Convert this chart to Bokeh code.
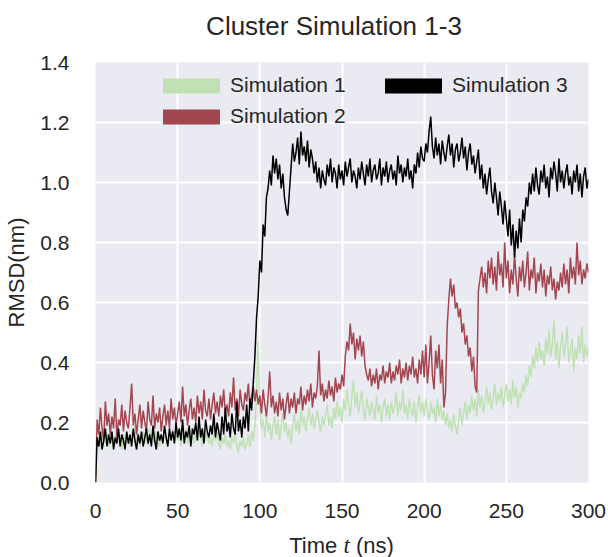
from bokeh.plotting import figure
from bokeh.layouts import column
from bokeh.models import Range1d, FixedTicker, PrintfTickFormatter, Legend, LegendItem, Div
from bokeh.embed import file_html
from bokeh.resources import INLINE

# ---------------- data (RMSD in nm, sampled every 1 ns) ----------------
time_ns = list(range(0, 301))

sim1 = [
    0.0, 0.13, 0.16, 0.11, 0.15, 0.18, 0.13, 0.16, 0.12, 0.17,
    0.14, 0.12, 0.16, 0.13, 0.18, 0.14, 0.11, 0.16, 0.13, 0.17,
    0.14, 0.12, 0.17, 0.15, 0.19, 0.13, 0.16, 0.12, 0.15, 0.17,
    0.13, 0.16, 0.12, 0.18, 0.14, 0.16, 0.13, 0.17, 0.14, 0.12,
    0.16, 0.13, 0.17, 0.14, 0.12, 0.16, 0.15, 0.18, 0.13, 0.16,
    0.14, 0.17, 0.12, 0.16, 0.15, 0.18, 0.13, 0.16, 0.14, 0.17,
    0.13, 0.16, 0.14, 0.18, 0.15, 0.12, 0.16, 0.14, 0.17, 0.13,
    0.15, 0.12, 0.16, 0.14, 0.17, 0.13, 0.11, 0.15, 0.13, 0.16,
    0.12, 0.14, 0.11, 0.15, 0.13, 0.17, 0.12, 0.10, 0.14, 0.12,
    0.15, 0.11, 0.13, 0.16, 0.12, 0.17, 0.14, 0.19, 0.30, 0.47,
    0.24, 0.18, 0.21, 0.15, 0.23, 0.17, 0.20, 0.14, 0.19, 0.22,
    0.16, 0.21, 0.14, 0.19, 0.23, 0.17, 0.20, 0.15, 0.18, 0.13,
    0.19, 0.23, 0.17, 0.21, 0.16, 0.24, 0.19, 0.22, 0.17, 0.21,
    0.25, 0.19, 0.23, 0.18, 0.21, 0.24, 0.20, 0.17, 0.22, 0.19,
    0.23, 0.26, 0.19, 0.22, 0.18, 0.25, 0.21, 0.27, 0.22, 0.25,
    0.20, 0.28, 0.24, 0.31, 0.26, 0.22, 0.29, 0.34, 0.25, 0.30,
    0.23, 0.27, 0.31, 0.24, 0.21, 0.28, 0.25, 0.22, 0.27, 0.24,
    0.21, 0.29, 0.23, 0.26, 0.20, 0.25, 0.28, 0.22, 0.26, 0.21,
    0.27, 0.23, 0.25, 0.30, 0.22, 0.27, 0.24, 0.31, 0.23, 0.26,
    0.21, 0.28, 0.24, 0.22, 0.27, 0.20, 0.25, 0.29, 0.23, 0.27,
    0.22, 0.28, 0.24, 0.21, 0.27, 0.23, 0.25, 0.20, 0.28, 0.22,
    0.26, 0.21, 0.24, 0.19, 0.23, 0.18, 0.21, 0.17, 0.23, 0.19,
    0.16, 0.21, 0.25, 0.19, 0.23, 0.27, 0.21, 0.26, 0.23, 0.29,
    0.24, 0.28, 0.22, 0.31, 0.25, 0.29, 0.23, 0.27, 0.32, 0.26,
    0.30, 0.24, 0.28, 0.33, 0.26, 0.30, 0.27, 0.32, 0.25, 0.29,
    0.33, 0.27, 0.31, 0.26, 0.34, 0.28, 0.32, 0.25, 0.30, 0.28,
    0.33, 0.30, 0.36, 0.32, 0.39, 0.35, 0.42, 0.38, 0.45, 0.40,
    0.47, 0.41, 0.44, 0.39, 0.48, 0.43, 0.51, 0.42, 0.46, 0.54,
    0.41, 0.47, 0.38, 0.45, 0.50, 0.42, 0.46, 0.52, 0.40, 0.44,
    0.48, 0.37, 0.45, 0.41, 0.49, 0.43, 0.52, 0.40, 0.46, 0.42,
    0.45,
]

sim2 = [
    0.0, 0.21, 0.16, 0.25, 0.18, 0.14, 0.27, 0.19, 0.23, 0.16,
    0.22, 0.18, 0.28, 0.15, 0.21, 0.19, 0.26, 0.17, 0.24, 0.20,
    0.18, 0.25, 0.33, 0.19, 0.23, 0.16, 0.21, 0.26, 0.18, 0.24,
    0.20, 0.17, 0.27, 0.21, 0.19, 0.29, 0.18, 0.23, 0.20, 0.25,
    0.17, 0.22, 0.26, 0.19, 0.24, 0.18, 0.28, 0.21, 0.25, 0.19,
    0.23, 0.27, 0.20, 0.32, 0.22, 0.26, 0.19, 0.24, 0.28, 0.21,
    0.25, 0.20, 0.29, 0.23, 0.27, 0.21, 0.31, 0.24, 0.22, 0.28,
    0.21, 0.26, 0.30, 0.23, 0.27, 0.22, 0.29, 0.25, 0.31, 0.23,
    0.26, 0.22, 0.30, 0.25, 0.35, 0.24, 0.28, 0.22, 0.31, 0.26,
    0.24, 0.30, 0.27, 0.33, 0.25, 0.29, 0.32, 0.27, 0.31, 0.26,
    0.29, 0.23, 0.31, 0.26, 0.22, 0.28, 0.37, 0.25, 0.29, 0.23,
    0.27, 0.22, 0.30, 0.24, 0.28, 0.21, 0.26, 0.30, 0.23, 0.28,
    0.25, 0.30, 0.23, 0.28, 0.26, 0.32, 0.24, 0.29, 0.26, 0.31,
    0.27, 0.33, 0.25, 0.30, 0.28, 0.32, 0.44, 0.29, 0.33, 0.27,
    0.31, 0.28, 0.34, 0.29, 0.32, 0.27, 0.35, 0.30, 0.33, 0.31,
    0.36, 0.32, 0.42, 0.47, 0.44, 0.53, 0.46, 0.50, 0.41, 0.48,
    0.44, 0.49, 0.42, 0.47, 0.39, 0.36, 0.34, 0.38, 0.32, 0.36,
    0.33, 0.38, 0.31, 0.36, 0.34, 0.39, 0.33, 0.37, 0.35, 0.40,
    0.33, 0.37, 0.34, 0.39, 0.36, 0.41, 0.33, 0.38, 0.35, 0.40,
    0.34, 0.39, 0.36, 0.42, 0.35, 0.38, 0.33, 0.41, 0.36, 0.44,
    0.35, 0.46, 0.33, 0.40, 0.49, 0.36, 0.31, 0.44, 0.38, 0.46,
    0.33, 0.41, 0.25, 0.30, 0.52, 0.61, 0.68, 0.62, 0.66, 0.58,
    0.60, 0.55, 0.58, 0.50, 0.53, 0.46, 0.49, 0.42, 0.45, 0.37,
    0.42, 0.32, 0.30, 0.64, 0.68, 0.72, 0.65, 0.70, 0.63, 0.74,
    0.68, 0.75, 0.66, 0.72, 0.64, 0.77, 0.69, 0.73, 0.65, 0.80,
    0.68, 0.74, 0.63, 0.71, 0.66, 0.76, 0.68, 0.62, 0.72, 0.67,
    0.74, 0.65, 0.70, 0.77, 0.64, 0.71, 0.68, 0.75, 0.63, 0.70,
    0.67, 0.73, 0.65, 0.71, 0.62, 0.69, 0.66, 0.72, 0.64, 0.68,
    0.61, 0.67, 0.64, 0.70, 0.65, 0.73, 0.66, 0.71, 0.63, 0.75,
    0.68, 0.72, 0.66, 0.80, 0.69, 0.74, 0.66, 0.71, 0.68, 0.73,
    0.70,
]

sim3 = [
    0.0, 0.15, 0.12, 0.17, 0.11, 0.14, 0.18, 0.12, 0.16, 0.13,
    0.17, 0.11, 0.15, 0.13, 0.18, 0.12, 0.16, 0.14, 0.11, 0.17,
    0.13, 0.16, 0.12, 0.18, 0.14, 0.11, 0.16, 0.13, 0.17, 0.12,
    0.15, 0.18, 0.13, 0.16, 0.12, 0.19, 0.14, 0.11, 0.17, 0.14,
    0.16, 0.13, 0.19, 0.15, 0.12, 0.18, 0.14, 0.17, 0.13, 0.20,
    0.15, 0.18, 0.14, 0.21, 0.13, 0.17, 0.15, 0.19, 0.12, 0.18,
    0.16, 0.20, 0.14, 0.22, 0.15, 0.18, 0.13, 0.21, 0.17, 0.15,
    0.19, 0.16, 0.23, 0.15, 0.20, 0.17, 0.14, 0.22, 0.16, 0.25,
    0.17, 0.20, 0.15, 0.23, 0.18, 0.16, 0.27, 0.17, 0.21, 0.15,
    0.22, 0.18, 0.26, 0.17, 0.28, 0.24, 0.33, 0.42, 0.55, 0.62,
    0.74, 0.70, 0.86, 0.82, 0.95, 0.98, 1.04, 0.99, 1.09, 1.03,
    1.08, 1.01, 1.06, 0.98, 1.03, 0.95, 0.91, 0.89, 0.97, 1.05,
    1.13, 1.07, 1.10, 1.15, 1.06, 1.17, 1.09, 1.12, 1.07, 1.14,
    1.05, 1.11, 1.08, 1.03, 1.07, 1.00, 1.05, 0.98, 1.04, 1.01,
    0.99, 1.06, 1.02, 1.08, 1.00, 1.05, 1.03, 0.98, 1.06, 1.01,
    1.04, 0.99, 1.07, 1.02, 1.05, 1.08, 1.00, 1.04, 1.02, 0.98,
    1.05, 1.01, 1.07, 1.03, 0.99, 1.06, 1.02, 1.08, 1.00, 1.04,
    1.06, 1.01, 1.03, 1.08, 0.99, 1.05, 1.02, 1.07, 1.00, 1.04,
    1.06, 1.01, 1.04, 0.99, 1.09, 1.03, 1.06, 1.00, 1.05, 1.02,
    1.08, 1.01, 1.04, 0.98, 1.06, 1.03, 1.10, 1.05, 1.12, 1.08,
    1.07, 1.13, 1.10, 1.17, 1.22, 1.12, 1.08, 1.15, 1.09, 1.13,
    1.06, 1.14, 1.10, 1.07, 1.12, 1.16, 1.09, 1.13, 1.05, 1.11,
    1.13, 1.07, 1.10, 1.15, 1.08, 1.12, 1.04, 1.10, 1.13, 1.06,
    1.09, 1.03, 1.07, 1.11, 1.01, 1.06, 0.98, 1.03, 0.96, 1.01,
    1.05, 0.97, 0.93, 1.00, 0.95, 0.89, 0.97, 0.92, 0.86, 0.94,
    0.88, 0.82, 0.91, 0.79, 0.86, 0.75, 0.84, 0.78, 0.88, 0.80,
    0.91, 0.87, 0.95, 0.92, 1.00, 0.96, 1.03, 0.97, 1.05, 0.99,
    0.96, 1.04, 1.00, 1.06, 0.98, 1.02, 0.95, 1.05, 1.01, 1.07,
    1.03, 0.97, 1.08, 1.00, 1.04, 0.98, 1.03, 1.06, 0.99, 1.02,
    0.96, 1.04, 1.00, 1.06, 0.97, 1.03, 0.95, 1.02, 1.05, 0.98,
    1.01,
]

series_labels = ["Simulation 1", "Simulation 2", "Simulation 3"]
x_ticks = [0, 50, 100, 150, 200, 250, 300]
y_ticks = [0.0, 0.2, 0.4, 0.6, 0.8, 1.0, 1.2, 1.4]

# ---------------- styling ----------------
C1, C2, C3 = "#c0e1b4", "#a4464f", "#000000"
TXT = "#262626"
FONT = "Liberation Sans"

p = figure(width=608, height=478, output_backend="svg", toolbar_location=None,
           x_range=Range1d(0, 300), y_range=Range1d(0, 1.4),
           min_border_left=95, min_border_right=20, min_border_top=10, min_border_bottom=48,
           background_fill_color="#EAEAF2", border_fill_color="white", outline_line_color=None)

p.grid.grid_line_color = "white"
p.grid.grid_line_width = 2
p.xaxis.ticker = FixedTicker(ticks=x_ticks)
p.yaxis.ticker = FixedTicker(ticks=y_ticks)
p.xaxis.formatter = PrintfTickFormatter(format="%d")
p.yaxis.formatter = PrintfTickFormatter(format="%.1f")
p.xgrid.ticker = FixedTicker(ticks=x_ticks)
p.ygrid.ticker = FixedTicker(ticks=y_ticks)

for ax in (p.xaxis, p.yaxis):
    ax.axis_line_color = None
    ax.major_tick_line_color = None
    ax.minor_tick_line_color = None
    ax.major_label_text_font = FONT
    ax.major_label_text_font_size = "21px"
    ax.major_label_text_color = TXT
p.xaxis.major_label_standoff = 15
p.yaxis.major_label_standoff = 20

p.yaxis.axis_label = "RMSD(nm)"
p.yaxis.axis_label_text_font = FONT
p.yaxis.axis_label_text_font_size = "22px"
p.yaxis.axis_label_text_font_style = "normal"
p.yaxis.axis_label_text_color = TXT
p.yaxis.axis_label_standoff = 8

# data lines (green under red under black)
p.line(time_ns, sim1, line_color=C1, line_width=1.5)
p.line(time_ns, sim2, line_color=C2, line_width=1.5)
p.line(time_ns, sim3, line_color=C3, line_width=1.5)

# legend proxies: thick strokes, kept outside the visible ranges
g1 = p.line([-20, -10], [-1, -1], line_color=C1, line_width=15, line_cap="round")
g2 = p.line([-20, -10], [-1, -1], line_color=C2, line_width=15, line_cap="round")
g3 = p.line([-20, -10], [-1, -1], line_color=C3, line_width=15, line_cap="round")

def make_legend(items, loc):
    return Legend(items=items, location=loc, background_fill_alpha=0, border_line_alpha=0,
                  padding=0, margin=0, spacing=0, glyph_width=57, glyph_height=31,
                  label_height=31, label_standoff=10, label_text_font=FONT,
                  label_text_font_size="21px", label_text_color=TXT)

legA = make_legend([LegendItem(label=series_labels[0], renderers=[g1]),
                    LegendItem(label=series_labels[1], renderers=[g2])], (68, 350.5))
legB = make_legend([LegendItem(label=series_labels[2], renderers=[g3])], (290, 381.5))
p.add_layout(legA)
p.add_layout(legB)

# title as HTML text above the figure
title = Div(text="Cluster Simulation 1-3", width=478, height=52, margin=(0, 35, 0, 95),
            styles={"text-align": "center", "font-family": FONT, "font-size": "26px",
                    "color": TXT, "line-height": "52px", "width": "478px", "display": "block"})

# x-axis label (with italic t) as HTML text under the figure
xlabel = Div(text='Time <span style="font-family:\'Liberation Serif\';font-style:italic;font-size:23px">t</span> (ns)',
             width=493, height=27, margin=(0, 20, 0, 95),
             styles={"text-align": "center", "font-family": FONT, "font-size": "22px",
                     "color": TXT, "line-height": "27px", "padding-top": "2px",
                     "width": "493px", "display": "block"})

layout = column(title, p, xlabel, spacing=0)
open("out.html", "w").write(file_html(layout, INLINE))
